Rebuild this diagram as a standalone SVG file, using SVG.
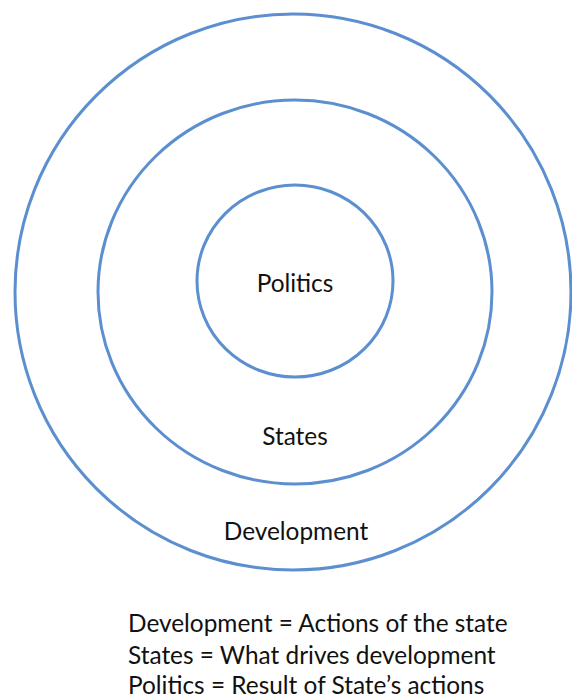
<svg xmlns="http://www.w3.org/2000/svg" width="572" height="698" viewBox="0 0 572 698">
  <style>
    .ring { fill: none; stroke: #5b8fd0; stroke-width: 3; }
    .label { font-family: Lato, "Open Sans", "Liberation Sans", sans-serif; font-size: 24.4px; fill: #111; text-anchor: middle; }
    .note { font-family: Lato, "Open Sans", "Liberation Sans", sans-serif; font-size: 24.4px; fill: #111; }
  </style>
  <rect width="572" height="698" fill="#fff"/>
  <g id="development">
    <circle class="ring" cx="293" cy="292" r="278"/>
    <text class="label" x="296" y="540">Development</text>
  </g>
  <g id="states">
    <ellipse class="ring" cx="295" cy="292" rx="197" ry="192"/>
    <text class="label" x="295" y="445">States</text>
  </g>
  <g id="politics">
    <ellipse class="ring" cx="295" cy="281" rx="98" ry="96"/>
    <text class="label" x="295" y="292">Politics</text>
  </g>
  <g id="connectors"/>
  <g id="legend">
    <text class="note" x="128" y="632">Development = Actions of the state</text>
    <text class="note" x="128" y="664">States = What drives development</text>
    <text class="note" x="128" y="694">Politics = Result of State’s actions</text>
  </g>
</svg>
